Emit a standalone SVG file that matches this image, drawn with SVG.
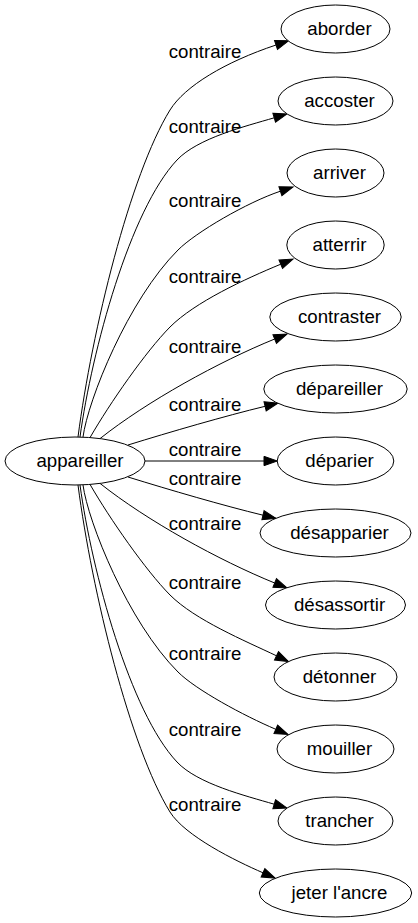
<svg xmlns="http://www.w3.org/2000/svg" width="418" height="923" viewBox="0 0 418 923">
<style>
.node ellipse{fill:#fff;stroke:#000;stroke-width:1}
.node text{font-family:"Liberation Sans",Arial,sans-serif;font-size:18.67px;fill:#000;text-anchor:middle}
.edge path{fill:none;stroke:#000;stroke-width:1;marker-end:url(#ah)}
.edge text{font-family:"Liberation Sans",Arial,sans-serif;font-size:18.67px;fill:#000;text-anchor:middle}
</style>
<defs>
<marker id="ah" viewBox="0 0 14 10" refX="0" refY="5" markerWidth="14" markerHeight="10" orient="auto" markerUnits="userSpaceOnUse" overflow="visible">
<path d="M0,0.33 L13.3,5 L0,9.67 Z" fill="#000" stroke="#000" stroke-width="1"/>
</marker>
</defs>
<rect width="418" height="923" fill="#fff"/>
<g id="connectors">
<g class="edge" id="e1"><path d="M78,437 C92,330 130,175 170,110 C185,86 225,62 276,45"/><text x="205" y="57.5">contraire</text></g>
<g class="edge" id="e2"><path d="M80,437 C92,350 130,210 177,160 C197.6,138.1 245.4,126.3 274.2,117.8"/><text x="205" y="132.5">contraire</text></g>
<g class="edge" id="e3"><path d="M83,437 C88,400 128,300 178,250 C195.7,232.3 247.2,202.3 280.4,191.2"/><text x="205" y="207">contraire</text></g>
<g class="edge" id="e4"><path d="M90,437.6 C110,403 145.5,351.9 170,327 C195,302 245,279 280.75,264.2"/><text x="205" y="283">contraire</text></g>
<g class="edge" id="e5"><path d="M100,438.6 C146.8,401.4 219.1,361.6 274.7,339"/><text x="205" y="352.5">contraire</text></g>
<g class="edge" id="e6"><path d="M128,445 C170,432 225,416 265.1,406.3"/><text x="205" y="411">contraire</text></g>
<g class="edge" id="e7"><path d="M145,461 L264,461"/><text x="205" y="456">contraire</text></g>
<g class="edge" id="e8"><path d="M128,477 C170,490 223,505.5 263,515.2"/><text x="205" y="484.5">contraire</text></g>
<g class="edge" id="e9"><path d="M100,483.4 C146.8,520.6 219.1,560.4 274.7,583"/><text x="205" y="529.5">contraire</text></g>
<g class="edge" id="e10"><path d="M90,484.4 C110,519 145.5,570.1 170,595 C195,620 245,640.8 276.5,655.8"/><text x="205" y="589">contraire</text></g>
<g class="edge" id="e11"><path d="M83,485 C88,522 128,622 178,672 C195.7,689.7 243.6,715.6 275.8,729.3"/><text x="205" y="660">contraire</text></g>
<g class="edge" id="e12"><path d="M80,485 C92,572 130,712 177,762 C197.6,783.9 245.4,795.7 274.2,804.2"/><text x="205" y="736">contraire</text></g>
<g class="edge" id="e13"><path d="M78,485 C92,592 130,747 170,812 C185,836 235.5,860.9 263,872.8"/><text x="205" y="811">contraire</text></g>
</g>
<g id="n-appareiller" class="node"><ellipse cx="75" cy="461" rx="70" ry="24"/><text x="80" y="466.5">appareiller</text></g>
<g id="n-aborder" class="node"><ellipse cx="335.5" cy="29" rx="54.5" ry="24"/><text x="339.5" y="34.5">aborder</text></g>
<g id="n-accoster" class="node"><ellipse cx="335.5" cy="101" rx="57.5" ry="24"/><text x="339.5" y="106.5">accoster</text></g>
<g id="n-arriver" class="node"><ellipse cx="335.5" cy="173" rx="48.5" ry="24"/><text x="339.5" y="178.5">arriver</text></g>
<g id="n-atterrir" class="node"><ellipse cx="335.5" cy="245" rx="48.7" ry="24"/><text x="339.5" y="250.5">atterrir</text></g>
<g id="n-contraster" class="node"><ellipse cx="335.5" cy="317" rx="65.7" ry="24"/><text x="339.5" y="322.5">contraster</text></g>
<g id="n-depareiller" class="node"><ellipse cx="335.5" cy="389" rx="71.7" ry="24"/><text x="339.5" y="394.5">dépareiller</text></g>
<g id="n-deparier" class="node"><ellipse cx="335.5" cy="461" rx="58.3" ry="24"/><text x="339.5" y="466.5">déparier</text></g>
<g id="n-desapparier" class="node"><ellipse cx="335.5" cy="533" rx="75.5" ry="24"/><text x="339.5" y="538.5">désapparier</text></g>
<g id="n-desassortir" class="node"><ellipse cx="335.5" cy="605" rx="70" ry="24"/><text x="339.5" y="610.5">désassortir</text></g>
<g id="n-detonner" class="node"><ellipse cx="335.5" cy="677" rx="61.5" ry="24"/><text x="339.5" y="682.5">détonner</text></g>
<g id="n-mouiller" class="node"><ellipse cx="335.5" cy="749" rx="58.5" ry="24"/><text x="339.5" y="754.5">mouiller</text></g>
<g id="n-trancher" class="node"><ellipse cx="335.5" cy="821" rx="57.5" ry="24"/><text x="339.5" y="826.5">trancher</text></g>
<g id="n-jeter" class="node"><ellipse cx="335.5" cy="893" rx="76.2" ry="24"/><text x="339.5" y="898.5">jeter l'ancre</text></g>
</svg>
